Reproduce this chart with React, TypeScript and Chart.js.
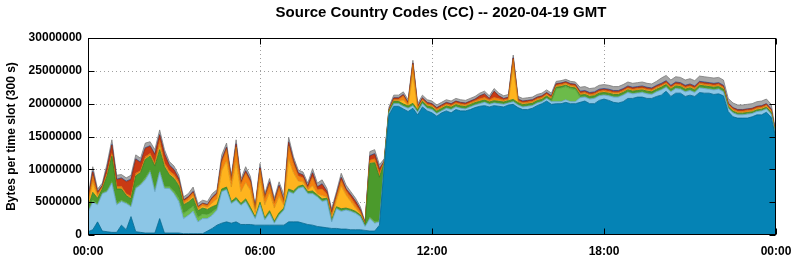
import { useEffect, useRef } from 'react';
import { Chart, registerables } from 'chart.js';

Chart.register(...registerables);

const TITLE = 'Source Country Codes (CC) -- 2020-04-19 GMT';
const Y_TITLE = 'Bytes per time slot (300 s)';
const xTickMinutes = [0, 360, 720, 1080, 1440];
const xTickLabels = ['00:00', '06:00', '12:00', '18:00', '00:00'];
const yTickValues = [0, 5000000, 10000000, 15000000, 20000000, 25000000, 30000000];
const SLOT_MINUTES = 10;
const MB = 1000000;

// layer thicknesses in millions of bytes, one value per 10-minute slot (00:00 .. 24:00)
const darkBlue = [
  0.5, 0.8, 2.0, 0.6, 0.5, 0.4, 0.4, 1.5, 0.8, 2.8,
  0.5, 0.4, 0.3, 0.3, 0.3, 2.5, 0.3, 0.3, 0.3, 0.3,
  0.2, 0.2, 0.2, 0.2, 0.2, 0.6, 1.0, 1.5, 1.8, 2.0,
  1.8, 2.0, 1.6, 1.6, 1.6, 1.5, 1.5, 1.5, 1.5, 1.5,
  1.5, 1.5, 2.0, 2.0, 2.0, 1.8, 1.6, 1.5, 1.3, 1.2,
  1.1, 1.0, 1.0, 0.9, 0.9, 0.8, 0.8, 0.8, 0.7, 0.6,
  0.6, 1.5, 10.4, 18.3, 19.6,
  19.6, 19.2, 18.8, 19.3, 18.3, 19.5, 18.9, 18.6, 18.1, 18.6,
  18.9, 18.6, 19.1, 18.9, 18.9, 19.1, 19.4, 19.6, 19.7, 19.5,
  19.7, 19.6, 19.5, 19.8, 19.9, 19.4, 19.1, 19.1, 19.3, 19.7,
  20.0, 20.4, 19.9, 20.0, 20.0, 20.2, 20.0, 20.0, 20.2, 20.4,
  20.0, 20.0, 20.5, 20.7, 20.5, 20.2, 20.1, 20.3, 20.8, 20.8,
  21.0, 21.0, 20.8, 20.8, 21.1, 21.3, 21.9, 21.1, 21.6, 21.6,
  21.1, 21.3, 21.1, 21.7, 21.6, 21.6, 21.4, 21.5, 21.2, 18.8,
  18.0, 17.8, 17.8, 17.8, 18.0, 18.3, 18.3, 18.7, 17.9, 14.6,
];

const lightBlue = [
  3.0, 4.2, 2.6, 5.7, 6.1, 7.5, 4.2, 3.6, 4.0, 1.5,
  6.6, 7.2, 8.1, 9.3, 6.3, 7.1, 6.8, 6.8, 6.0, 4.8,
  2.3, 2.8, 3.4, 1.8, 2.3, 1.9, 2.0, 2.3, 4.8, 4.9,
  3.0, 3.3, 2.9, 3.5, 2.2, 1.0, 3.1, 0.8, 1.8, 0.3,
  1.5, 2.3, 4.6, 4.3, 5.1, 5.5, 4.7, 4.8, 4.5, 3.9,
  4.2, 1.0, 3.0, 2.7, 2.9, 2.8, 2.5, 2.0, 0.6, 1.9,
  1.2, 0.5, 0.3, 0.3, 0.4,
  0.4, 0.4, 0.5, 0.4, 0.4, 0.5, 0.4, 0.5, 0.4, 0.3,
  0.4, 0.5, 0.4, 0.4, 0.3, 0.4, 0.4, 0.4, 0.5, 0.4,
  0.4, 0.4, 0.4, 0.3, 0.4, 0.4, 0.4, 0.5, 0.4, 0.4,
  0.3, 0.4, 0.4, 0.3, 0.3, 0.4, 0.3, 0.3, 0.7, 0.6,
  0.7, 0.8, 0.7, 0.6, 0.7, 0.8, 0.9, 1.0, 0.9, 0.7,
  0.6, 0.7, 0.7, 0.6, 0.7, 0.8, 0.6, 0.7, 0.7, 0.6,
  0.7, 0.7, 0.6, 0.7, 0.7, 0.6, 0.7, 0.7, 0.6, 0.5,
  0.6, 0.5, 0.5, 0.6, 0.5, 0.5, 0.6, 0.5, 0.5, 0.2,
];

const lightGreen = [
  0.2, 0.3, 0.2, 0.1, 0.2, 0.3, 0.3, 0.2, 0.2, 0.2,
  0.2, 0.2, 0.3, 0.3, 0.3, 0.3, 0.3, 0.3, 0.4, 0.5,
  0.8, 0.8, 0.8, 0.7, 0.7, 0.6, 0.5, 0.3, 0.1, 0.1,
  0.1, 0.1, 0.1, 0.1, 0.1, 0.05, 0.1, 0.1, 0.1, 0.1,
  0.1, 0.1, 0.1, 0.1, 0.1, 0.1, 0.1, 0.1, 0.1, 0.1,
  0.1, 0.1, 0.1, 0.1, 0.1, 0.1, 0.1, 0.05, 0.05, 0.2,
  0.2, 0.2, 0.05, 0.05, 0.05,
  0.05, 0.05, 0.05, 0.05, 0.05, 0.05, 0.05, 0.05, 0.05, 0.05,
  0.05, 0.05, 0.05, 0.05, 0.05, 0.05, 0.05, 0.05, 0.05, 0.05,
  0.05, 0.05, 0.05, 0.05, 0.05, 0.05, 0.05, 0.05, 0.05, 0.05,
  0.05, 0.05, 0.05, 2.0, 2.1, 2.0, 2.0, 1.9, 0.1, 0.1,
  0.1, 0.1, 0.1, 0.1, 0.1, 0.1, 0.1, 0.1, 0.1, 0.1,
  0.1, 0.1, 0.1, 0.1, 0.1, 0.1, 0.1, 0.1, 0.1, 0.1,
  0.1, 0.1, 0.1, 0.1, 0.1, 0.1, 0.1, 0.1, 0.1, 0.05,
  0.05, 0.05, 0.05, 0.05, 0.05, 0.05, 0.05, 0.05, 0.05, 0.0,
];

const green = [
  0.5, 1.2, 0.8, 0.6, 2.2, 3.8, 2.1, 1.7, 1.0, 1.0,
  1.7, 1.7, 2.8, 2.1, 3.6, 3.1, 3.0, 1.8, 1.9, 1.9,
  1.3, 1.2, 1.2, 1.0, 0.9, 0.8, 0.8, 0.5, 0.3, 0.3,
  0.2, 0.3, 0.2, 0.3, 0.3, 0.2, 0.3, 0.2, 0.3, 0.2,
  0.3, 0.2, 0.3, 0.3, 0.2, 0.2, 0.2, 0.3, 0.2, 0.3,
  0.2, 0.2, 0.2, 0.3, 0.2, 0.2, 0.2, 0.2, 0.2, 8.2,
  9.0, 6.6, 0.2, 0.2, 0.3,
  0.3, 0.3, 0.3, 0.3, 0.3, 0.3, 0.3, 0.3, 0.3, 0.3,
  0.3, 0.3, 0.3, 0.3, 0.3, 0.3, 0.3, 0.3, 0.3, 0.3,
  0.3, 0.3, 0.3, 0.3, 0.3, 0.3, 0.3, 0.3, 0.3, 0.3,
  0.3, 0.3, 0.3, 0.2, 0.2, 0.2, 0.2, 0.2, 0.3, 0.3,
  0.3, 0.3, 0.3, 0.3, 0.3, 0.3, 0.3, 0.3, 0.3, 0.3,
  0.3, 0.3, 0.3, 0.3, 0.3, 0.3, 0.3, 0.3, 0.3, 0.3,
  0.3, 0.3, 0.3, 0.3, 0.3, 0.3, 0.3, 0.3, 0.3, 0.2,
  0.2, 0.2, 0.2, 0.2, 0.2, 0.2, 0.2, 0.2, 0.2, 0.1,
];

const yellow = [
  0.4, 1.5, 0.3, 0.1, 0.1, 0.1, 0.1, 0.1, 0.1, 0.1,
  0.1, 0.1, 0.1, 0.1, 0.1, 0.6, 0.2, 0.2, 0.2, 0.2,
  0.2, 0.2, 0.3, 0.2, 0.3, 0.3, 0.6, 0.9, 2.8, 4.0,
  2.2, 5.5, 1.8, 2.5, 2.6, 0.7, 3.5, 2.0, 2.8, 2.0,
  2.5, 0.4, 4.5, 2.8, 0.8, 0.5, 0.2, 0.8, 0.2, 0.5,
  0.2, 0.3, 1.0, 3.5, 2.0, 1.2, 0.5, 0.2, 0.05, 0.1,
  0.1, 0.1, 0.05, 0.05, 0.1,
  0.1, 0.6, 0.1, 4.5, 0.1, 0.1, 0.1, 0.1, 0.1, 0.1,
  0.1, 0.1, 0.1, 0.1, 0.1, 0.1, 0.1, 0.1, 0.1, 0.1,
  0.1, 0.1, 0.1, 0.1, 4.8, 0.1, 0.1, 0.1, 0.1, 0.1,
  0.1, 0.1, 0.1, 0.1, 0.1, 0.1, 0.1, 0.1, 0.1, 0.1,
  0.1, 0.1, 0.1, 0.1, 0.1, 0.1, 0.1, 0.1, 0.1, 0.1,
  0.1, 0.1, 0.1, 0.1, 0.1, 0.1, 0.1, 0.1, 0.1, 0.1,
  0.1, 0.1, 0.1, 0.1, 0.1, 0.1, 0.1, 0.1, 0.1, 0.1,
  0.1, 0.1, 0.1, 0.1, 0.1, 0.1, 0.1, 0.1, 0.1, 0.05,
];

const orange = [
  0.4, 1.0, 0.3, 0.2, 0.3, 0.3, 0.3, 0.3, 0.2, 0.3,
  0.3, 0.2, 0.3, 0.3, 0.3, 0.8, 0.4, 0.4, 0.4, 0.4,
  0.3, 0.4, 0.5, 0.3, 0.3, 0.3, 0.6, 0.7, 1.2, 1.7,
  1.0, 2.2, 1.2, 1.4, 1.2, 0.5, 1.4, 1.0, 1.2, 0.8,
  1.3, 0.5, 2.0, 1.4, 0.8, 0.6, 0.3, 1.3, 0.6, 1.0,
  0.4, 0.5, 0.5, 0.8, 0.6, 0.6, 0.5, 0.3, 0.1, 0.4,
  0.5, 0.5, 0.1, 0.1, 0.2,
  0.2, 0.6, 0.2, 1.4, 0.2, 0.2, 0.2, 0.2, 0.2, 0.2,
  0.2, 0.2, 0.2, 0.2, 0.2, 0.2, 0.2, 0.3, 0.3, 0.2,
  0.4, 0.3, 0.2, 0.2, 1.3, 0.2, 0.2, 0.2, 0.2, 0.2,
  0.2, 0.2, 0.2, 0.2, 0.2, 0.2, 0.2, 0.2, 0.2, 0.2,
  0.2, 0.2, 0.2, 0.2, 0.2, 0.2, 0.2, 0.2, 0.2, 0.2,
  0.2, 0.2, 0.2, 0.2, 0.2, 0.2, 0.2, 0.2, 0.2, 0.2,
  0.2, 0.2, 0.2, 0.2, 0.2, 0.2, 0.2, 0.2, 0.2, 0.2,
  0.2, 0.2, 0.2, 0.2, 0.2, 0.2, 0.2, 0.2, 0.2, 0.1,
];

const red = [
  0.2, 0.6, 0.3, 0.2, 0.8, 1.3, 1.0, 1.2, 1.8, 2.5,
  2.1, 1.2, 1.3, 1.1, 1.3, 0.8, 1.3, 0.8, 0.7, 0.4,
  0.2, 0.2, 0.2, 0.1, 0.1, 0.1, 0.2, 0.2, 0.4, 0.3,
  0.2, 0.4, 0.2, 0.3, 0.3, 0.1, 0.3, 0.2, 0.3, 0.2,
  0.3, 0.2, 0.6, 0.4, 0.4, 0.4, 0.3, 0.6, 0.4, 0.7,
  0.4, 0.4, 0.3, 0.4, 0.3, 0.4, 0.5, 0.3, 0.1, 0.6,
  0.7, 0.6, 0.1, 0.1, 0.2,
  0.2, 0.2, 0.2, 0.2, 0.2, 0.2, 0.2, 0.2, 0.2, 0.2,
  0.2, 0.2, 0.2, 0.2, 0.2, 0.2, 0.2, 0.4, 0.5, 0.2,
  0.9, 0.4, 0.2, 0.2, 0.2, 0.2, 0.2, 0.2, 0.2, 0.2,
  0.2, 0.2, 0.2, 0.2, 0.2, 0.2, 0.2, 0.2, 0.2, 0.2,
  0.2, 0.2, 0.2, 0.2, 0.2, 0.2, 0.2, 0.2, 0.2, 0.2,
  0.2, 0.2, 0.2, 0.2, 0.2, 0.2, 0.2, 0.2, 0.2, 0.2,
  0.2, 0.2, 0.2, 0.2, 0.2, 0.2, 0.2, 0.2, 0.2, 0.2,
  0.2, 0.2, 0.2, 0.2, 0.2, 0.2, 0.2, 0.2, 0.2, 0.1,
];

const blue = [
  0.1, 0.1, 0.05, 0.05, 0.1, 0.1, 0.1, 0.1, 0.1, 0.1,
  0.1, 0.1, 0.1, 0.1, 0.1, 0.1, 0.1, 0.1, 0.1, 0.1,
  0.05, 0.05, 0.05, 0.05, 0.05, 0.05, 0.05, 0.05, 0.1, 0.1,
  0.05, 0.1, 0.05, 0.1, 0.1, 0.05, 0.1, 0.05, 0.1, 0.05,
  0.1, 0.05, 0.1, 0.1, 0.05, 0.05, 0.05, 0.1, 0.05, 0.1,
  0.05, 0.05, 0.05, 0.1, 0.05, 0.05, 0.05, 0.05, 0.0, 0.1,
  0.1, 0.1, 0.05, 0.05, 0.05,
  0.05, 0.05, 0.05, 0.05, 0.05, 0.05, 0.05, 0.05, 0.05, 0.05,
  0.05, 0.05, 0.05, 0.05, 0.05, 0.05, 0.05, 0.05, 0.05, 0.05,
  0.05, 0.05, 0.05, 0.05, 0.05, 0.05, 0.05, 0.05, 0.05, 0.05,
  0.05, 0.05, 0.05, 0.05, 0.05, 0.05, 0.05, 0.05, 0.1, 0.1,
  0.1, 0.1, 0.1, 0.1, 0.1, 0.1, 0.1, 0.1, 0.1, 0.1,
  0.1, 0.1, 0.1, 0.1, 0.1, 0.1, 0.1, 0.1, 0.1, 0.1,
  0.1, 0.1, 0.1, 0.1, 0.1, 0.1, 0.1, 0.1, 0.1, 0.05,
  0.05, 0.05, 0.05, 0.05, 0.05, 0.05, 0.05, 0.05, 0.05, 0.05,
];

const gray = [
  0.5, 0.7, 0.45, 0.35, 0.6, 0.7, 0.6, 0.5, 0.5, 0.6,
  0.6, 0.6, 0.7, 0.6, 0.7, 0.7, 0.6, 0.5, 0.5, 0.5,
  0.45, 0.45, 0.65, 0.45, 0.45, 0.45, 0.55, 0.45, 0.7, 0.6,
  0.45, 0.6, 0.45, 0.6, 0.5, 0.4, 0.6, 0.45, 0.5, 0.45,
  0.5, 0.85, 0.7, 0.5, 0.45, 0.45, 0.45, 0.6, 0.55, 0.6,
  0.45, 0.45, 0.45, 0.6, 0.55, 0.45, 0.45, 0.4, 0.2, 0.6,
  0.6, 0.6, 0.35, 0.35, 0.4,
  0.4, 0.4, 0.4, 0.4, 0.4, 0.4, 0.4, 0.4, 0.4, 0.4,
  0.4, 0.4, 0.4, 0.4, 0.4, 0.4, 0.4, 0.4, 0.4, 0.4,
  0.4, 0.4, 0.4, 0.4, 0.4, 0.4, 0.4, 0.4, 0.4, 0.4,
  0.4, 0.4, 0.4, 0.35, 0.35, 0.35, 0.35, 0.35, 0.6, 0.6,
  0.6, 0.6, 0.6, 0.6, 0.6, 0.6, 0.6, 0.6, 0.6, 0.6,
  0.6, 0.6, 0.6, 0.6, 0.6, 0.8, 0.8, 0.8, 0.8, 0.8,
  0.8, 0.8, 0.8, 0.8, 0.8, 0.8, 0.8, 0.8, 0.8, 0.7,
  0.7, 0.7, 0.7, 0.7, 0.7, 0.7, 0.7, 0.7, 0.7, 0.3,
];

const SERIES = [
  { label: 'layer 1', values: darkBlue, fill: '#0583b5', line: '#04668e' },
  { label: 'layer 2', values: lightBlue, fill: '#8cc6e6', line: '#5f9fc2' },
  { label: 'layer 3', values: lightGreen, fill: '#6cbb4a', line: '#4f9a35' },
  { label: 'layer 4', values: green, fill: '#4b9a2c', line: '#3a7b22' },
  { label: 'layer 5', values: yellow, fill: '#ffb41e', line: '#d89010' },
  { label: 'layer 6', values: orange, fill: '#f5820f', line: '#c9690a' },
  { label: 'layer 7', values: red, fill: '#c93a14', line: '#9c2c0e' },
  { label: 'layer 8', values: blue, fill: '#3a62b8', line: '#2c4c90' },
  { label: 'layer 9', values: gray, fill: '#a6a6a6', line: '#7a7a7a' },
];

const FONT = '"Liberation Sans", Arial, sans-serif';

const gnuplotFrame = {
  id: 'gnuplotFrame',
  beforeDatasetsDraw(chart: any) {
    const { ctx, chartArea: a, scales } = chart;
    ctx.save();
    ctx.strokeStyle = '#a0a0a0';
    ctx.lineWidth = 1;
    ctx.setLineDash([1, 3]);
    for (const v of yTickValues.slice(1, -1)) {
      const y = Math.round(scales.y.getPixelForValue(v)) + 0.5;
      ctx.beginPath();
      ctx.moveTo(a.left, y);
      ctx.lineTo(a.right, y);
      ctx.stroke();
    }
    for (const m of xTickMinutes.slice(1, -1)) {
      const x = Math.round(scales.x.getPixelForValue(m)) + 0.5;
      ctx.beginPath();
      ctx.moveTo(x, a.top);
      ctx.lineTo(x, a.bottom);
      ctx.stroke();
    }
    ctx.restore();
  },
  afterDatasetsDraw(chart: any) {
    const { ctx, chartArea: a, scales } = chart;
    ctx.save();
    ctx.strokeStyle = '#000';
    ctx.lineWidth = 1;
    const l = Math.round(a.left) + 0.5;
    const r = Math.round(a.right) - 0.5;
    const t = Math.round(a.top) + 0.5;
    const b = Math.round(a.bottom) - 0.5;
    ctx.strokeRect(l, t, r - l, b - t);
    ctx.beginPath();
    for (const v of yTickValues) {
      const y = Math.round(scales.y.getPixelForValue(v)) + 0.5;
      ctx.moveTo(l, y);
      ctx.lineTo(l + 6, y);
      ctx.moveTo(r, y);
      ctx.lineTo(r - 6, y);
    }
    for (const m of xTickMinutes) {
      const x = Math.round(scales.x.getPixelForValue(m)) + 0.5;
      ctx.moveTo(x, b);
      ctx.lineTo(x, b - 6);
      ctx.moveTo(x, t);
      ctx.lineTo(x, t + 6);
    }
    ctx.stroke();
    ctx.fillStyle = '#000';
    ctx.font = `bold 15px ${FONT}`;
    ctx.textAlign = 'center';
    ctx.textBaseline = 'alphabetic';
    ctx.fillText(TITLE, 441, 17);
    ctx.restore();
  },
};

export default function App() {
  const ref = useRef<HTMLCanvasElement>(null);

  useEffect(() => {
    document.body.style.margin = '0';
    const slots = darkBlue.map((_, i) => i * SLOT_MINUTES);
    const datasets = SERIES.map((s, k) => ({
      label: s.label,
      data: s.values.map((v, i) => ({ x: slots[i], y: v * MB })),
      backgroundColor: s.fill,
      borderColor: s.line,
      borderWidth: 0.8,
      pointRadius: 0,
      tension: 0,
      fill: k === 0 ? 'origin' : '-1',
    }));

    const chart = new Chart(ref.current as HTMLCanvasElement, {
      type: 'line',
      data: { datasets } as any,
      options: {
        responsive: false,
        animation: false,
        devicePixelRatio: 1,
        layout: { padding: { top: 38, right: 19, left: 0, bottom: 0 } },
        plugins: {
          legend: { display: false },
          title: { display: false },
          tooltip: { enabled: false },
        },
        scales: {
          x: {
            type: 'linear',
            min: 0,
            max: 1440,
            grid: { display: false, drawTicks: false },
            border: { display: false },
            afterBuildTicks: (s: any) => {
              s.ticks = xTickMinutes.map((value) => ({ value }));
            },
            afterFit: (s: any) => {
              s.height = 25;
              s.paddingLeft = 0;
              s.paddingRight = 0;
              s.paddingTop = 0;
              s.paddingBottom = 0;
            },
            ticks: {
              autoSkip: false,
              maxRotation: 0,
              padding: 9,
              color: '#000',
              font: { family: FONT, size: 12, weight: 'bold' },
              callback: (v: any) => xTickLabels[xTickMinutes.indexOf(Number(v))],
            },
          },
          y: {
            stacked: true,
            min: 0,
            max: 30000000,
            grid: { display: false, drawTicks: false },
            border: { display: false },
            afterBuildTicks: (s: any) => {
              s.ticks = yTickValues.map((value) => ({ value }));
            },
            afterFit: (s: any) => {
              s.width = 88;
              s.paddingLeft = 0;
              s.paddingRight = 0;
              s.paddingTop = 0;
              s.paddingBottom = 0;
            },
            ticks: {
              padding: 6,
              color: '#000',
              font: { family: FONT, size: 12, weight: 'bold' },
              callback: (v: any) => String(v),
            },
            title: {
              display: true,
              text: Y_TITLE,
              color: '#000',
              font: { family: FONT, size: 12, weight: 'bold' },
              padding: { top: 4, bottom: 0 },
            },
          },
        },
      } as any,
      plugins: [gnuplotFrame],
    });
    return () => chart.destroy();
  }, []);

  return (
    <div style={{ width: 795, height: 260 }}>
      <canvas ref={ref} width={795} height={260} style={{ display: 'block' }} />
    </div>
  );
}
